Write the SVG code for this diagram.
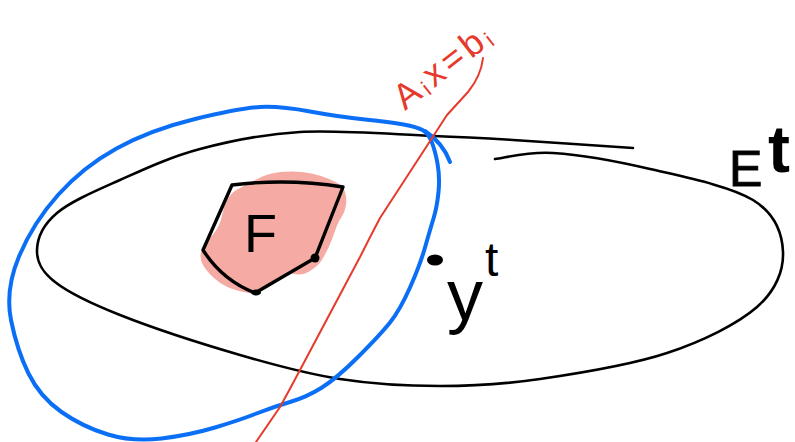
<svg xmlns="http://www.w3.org/2000/svg" width="795" height="442" viewBox="0 0 795 442">
<style>
.ink{fill:none;stroke-linecap:round;stroke-linejoin:round}
.blk{stroke:#000;stroke-width:2.6}
.blu{stroke:#0b6ff6;stroke-width:4}
.red{stroke:#e63a2c;stroke-width:2}
.lbl{font-family:"Liberation Sans",Arial,sans-serif;fill:#000}
</style>
<rect width="795" height="442" fill="#fff"/>
<g id="ellipse-E">
<path class="ink blk" d="M 633 148 C 613 146.7, 546.3 142, 513 140 C 479.7 138, 468.5 137.3, 433 136 C 397.5 134.7, 338.8 129.8, 300 132 C 261.2 134.2, 230 141, 200 149 C 170 157, 143.8 169.3, 120 180 C 96.2 190.7, 70.8 201.3, 57 213 C 43.2 224.7, 37.3 238.5, 37 250 C 36.7 261.5, 41.2 271.2, 55 282 C 68.8 292.8, 89.2 302.8, 120 315 C 150.8 327.2, 203.3 344.3, 240 355 C 276.7 365.7, 306.7 373.8, 340 379 C 373.3 384.2, 406.7 386, 440 386 C 473.3 386, 502.2 384.5, 540 379 C 577.8 373.5, 630.8 365, 667 353 C 703.2 341, 737.7 323.8, 757 307 C 776.3 290.2, 783.7 269.8, 783 252 C 782.3 234.2, 775.2 213.8, 753 200 C 730.8 186.2, 683.3 176.8, 650 169 C 616.7 161.2, 578.8 154.7, 553 153 C 527.2 151.3, 504.7 158, 495 159"/>
<text class="lbl" x="729" y="186" font-size="50" stroke="#000" stroke-width="1">E</text>
<text class="lbl" x="768" y="172" font-size="66" font-weight="bold">t</text>
</g>
<g id="set-F">
<path fill="#f5aba4" d="M 262.5 176.5 Q 270 173 281 172 Q 292 171 302 172 Q 312 173 321 176 Q 330 179 336.5 182.5 Q 343 186 345 192 Q 347 198 346 205 Q 345 212 341.5 217 Q 338 222 335 231 Q 332 240 328.5 247.5 Q 325 255 321.5 260.5 Q 318 266 310 271 Q 302 276 295 274 Q 288 272 281.5 277.5 Q 275 283 266.5 288.5 Q 258 294 249 293 Q 240 292 231 288.5 Q 222 285 214.5 278.5 Q 207 272 203 265 Q 199 258 201.5 251 Q 204 244 209 239 Q 214 234 217.5 228 Q 221 222 222.5 213.5 Q 224 205 228 198.5 Q 232 192 238 189 Q 244 186 249.5 183 Q 255 180 262.5 176.5 Z"/>
<path class="ink" stroke="#000" stroke-width="3.4" d="M 232 185 Q 288 178 343 187 L 315 258 L 255 293 Q 222 280 203 250 Z"/>
<circle cx="315" cy="258" r="4.5" fill="#000"/>
<ellipse cx="256" cy="292.5" rx="5" ry="3" fill="#000"/>
<text class="lbl" x="244" y="252" font-size="54">F</text>
</g>
<g id="region-blue">
<path class="ink blu" d="M 431.5 141.5 Q 435 150 437.5 163.5 Q 440 177 438.5 192 Q 437 207 433.5 218.5 Q 430 230 425 247.5 Q 420 265 410 287.5 Q 400 310 390 322.5 Q 380 335 358.5 356.5 Q 337 378 322 387.5 Q 307 397 290 402 Q 273 407 256.5 413.5 Q 240 420 215 427.5 Q 190 435 161.5 438.5 Q 133 442 108 434.5 Q 83 427 61.5 412 Q 40 397 28.5 373.5 Q 17 350 11 320 Q 5 290 19 256.5 Q 33 223 58 195 Q 83 167 116.5 148.5 Q 150 130 195 119 Q 240 108 260 107 Q 280 106 310 111.5 Q 340 117 365 119.5 Q 390 122 403.5 124.5 Q 417 127 422.5 130 Q 428 133 431.5 141.5 Z"/>
<path class="ink blu" d="M 425 131 Q 443 143 450 162"/>
</g>
<g id="hyperplane">
<path class="ink red" d="M 483 58 Q 481 76 468 92 L 447 115 L 380 218 Q 370 237 360 257 L 300 370 Q 290 389 280 407 L 256 442"/>
<text font-family="Liberation Sans,Arial,sans-serif" fill="#e63a2c" font-size="36" letter-spacing="4" transform="translate(405,111) rotate(-38)">A<tspan font-size="22" dy="3">i</tspan><tspan dy="-3">x=b</tspan><tspan font-size="22" dy="3">i</tspan></text>
</g>
<g id="point-y">
<ellipse cx="435" cy="260" rx="8" ry="5.5" fill="#000"/>
<text class="lbl" x="447" y="320" font-size="72">y</text>
<text class="lbl" x="485" y="276" font-size="48">t</text>
</g>
</svg>
